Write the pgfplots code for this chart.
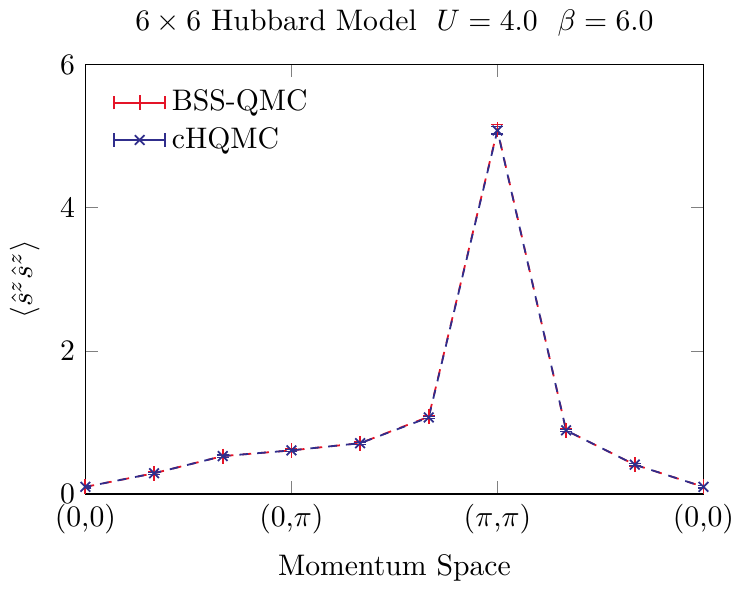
\documentclass[border=0pt]{standalone}
\usepackage{pgfplots}
\pgfplotsset{compat=1.18}
\definecolor{qred}{RGB}{228,20,40}
\definecolor{qblue}{RGB}{48,46,140}
\begin{document}
\begin{tikzpicture}
\begin{axis}[
  scale only axis, width=208pt, height=144.5pt,
  xmin=0, xmax=9, ymin=0, ymax=6,
  xtick={0,3,6,9}, xticklabels={{(0,0)},{(0,$\pi$)},{($\pi$,$\pi$)},{(0,0)}},
  xticklabel style={inner xsep=0pt},
  ytick={0,2,4,6},
  title={$6\times6$ Hubbard Model\ \ $U=4.0$\ \ $\beta=6.0$},
  xlabel={Momentum Space},
  ylabel={$\langle\hat{s}^z\hat{s}^z\rangle$},
  legend pos=north west,
  legend style={draw=none, fill=none, font=\normalsize, at={(0.03,0.97)}},
  legend cell align=left,
  legend image code/.code={
    \draw[#1,solid,mark=none] (0cm,0cm) -- (0.6cm,0cm);
    \draw[#1,solid,mark=none] (0cm,-0.08cm) -- (0cm,0.08cm);
    \draw[#1,solid,mark=none] (0.6cm,-0.08cm) -- (0.6cm,0.08cm);
    \draw[#1,mark repeat=2,mark phase=2] plot coordinates {(0cm,0cm)(0.3cm,0cm)(0.6cm,0cm)};
  },
]
\addplot[qred, semithick, dashed, mark=|, mark options={solid}, mark size=2.5pt,
  error bars/.cd, y dir=both, y explicit, error bar style={solid, mark size=2pt}]
  coordinates {
  (0,0.10) +- (0,0.02)
  (1,0.29) +- (0,0.02)
  (2,0.53) +- (0,0.02)
  (3,0.61) +- (0,0.02)
  (4,0.71) +- (0,0.02)
  (5,1.08) +- (0,0.02)
  (6,5.09) +- (0,0.07)
  (7,0.89) +- (0,0.02)
  (8,0.41) +- (0,0.02)
  (9,0.10) +- (0,0.02)
};
\addlegendentry{BSS-QMC}
\addplot[qblue, semithick, dashed, dash phase=1pt, mark=x, mark options={solid}, mark size=2.3pt,
  error bars/.cd, y dir=both, y explicit, error bar style={solid, mark size=2pt}]
  coordinates {
  (0,0.10) +- (0,0.015)
  (1,0.29) +- (0,0.015)
  (2,0.53) +- (0,0.015)
  (3,0.61) +- (0,0.015)
  (4,0.71) +- (0,0.015)
  (5,1.07) +- (0,0.015)
  (6,5.08) +- (0,0.05)
  (7,0.89) +- (0,0.015)
  (8,0.41) +- (0,0.015)
  (9,0.10) +- (0,0.015)
};
\addlegendentry{cHQMC}
\end{axis}
\end{tikzpicture}
\end{document}
